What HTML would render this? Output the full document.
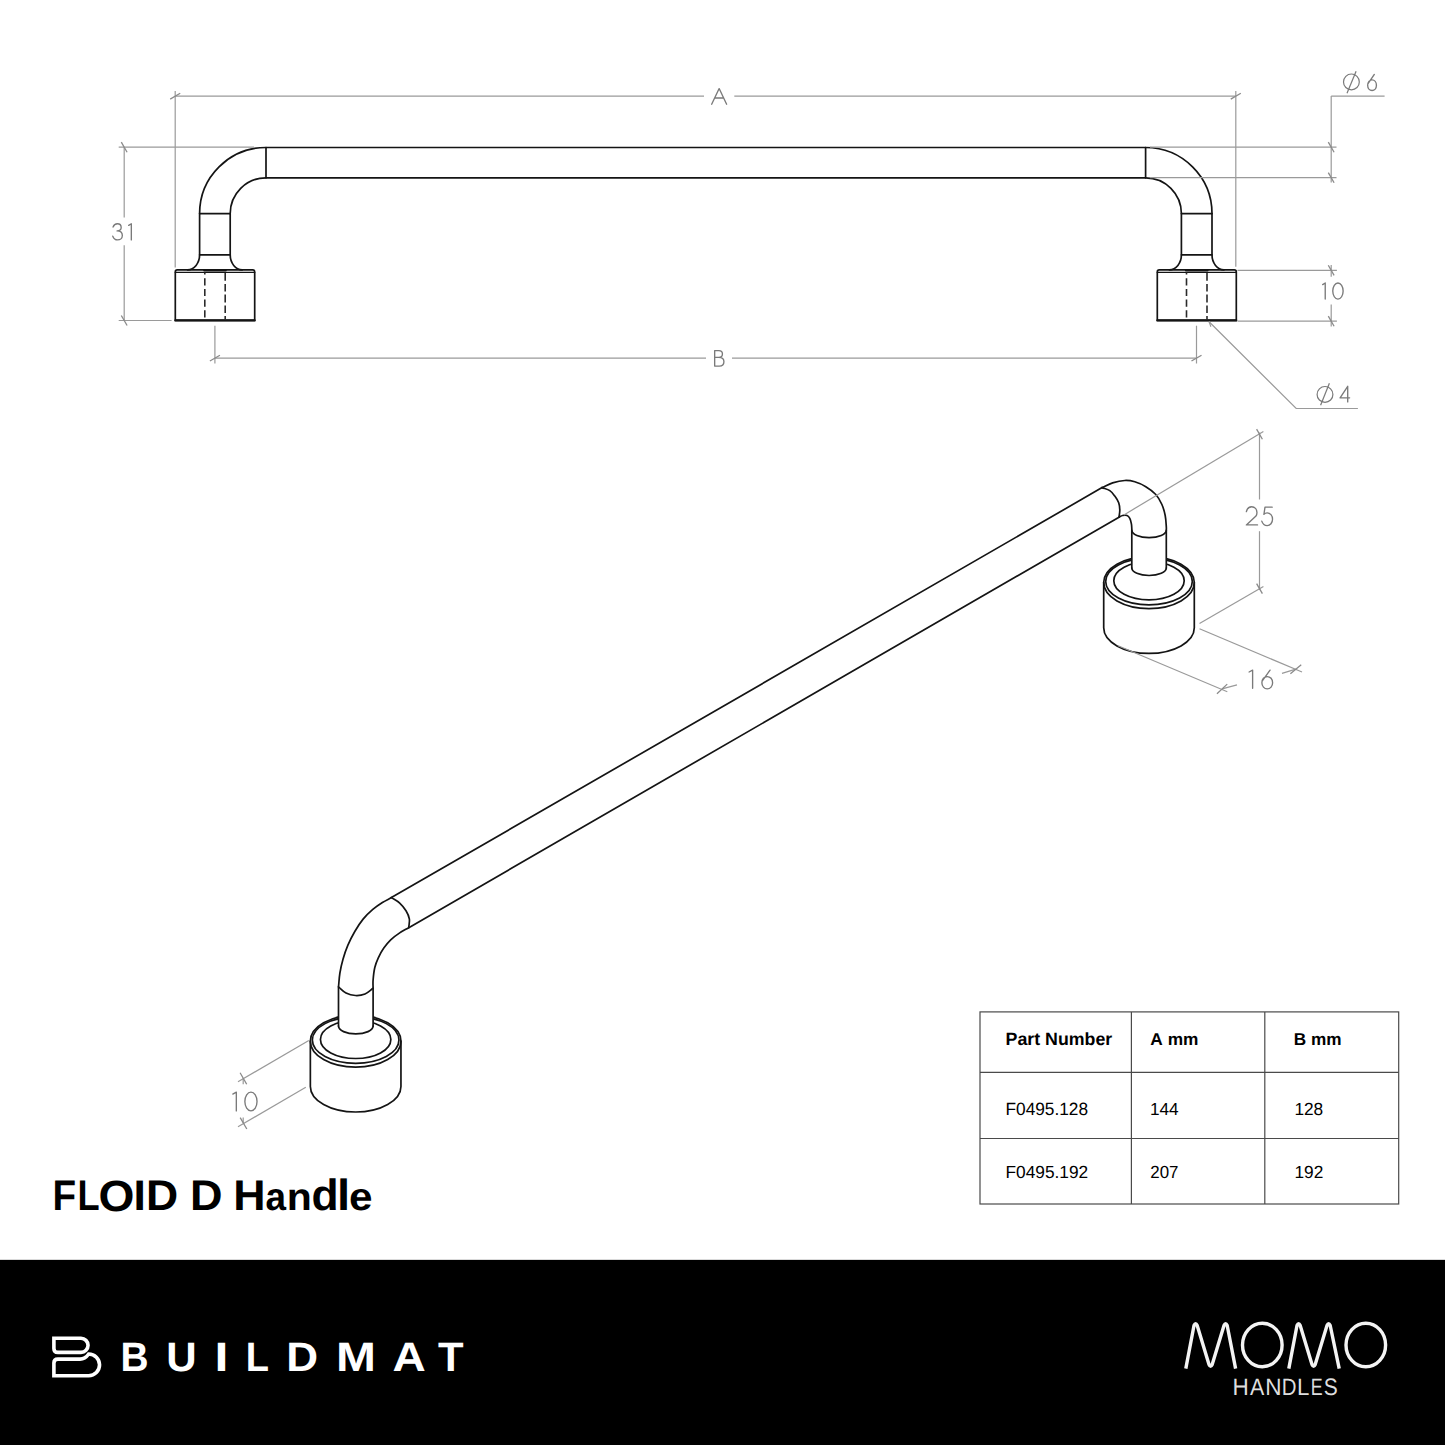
<!DOCTYPE html>
<html><head><meta charset="utf-8"><style>
html,body{margin:0;padding:0;background:#fff;}
body{width:1445px;height:1445px;overflow:hidden;position:relative;font-family:"Liberation Sans",sans-serif;}
svg{position:absolute;left:0;top:0;}
.t{position:absolute;white-space:nowrap;color:#000;}
</style></head><body>
<svg width="1445" height="1445" viewBox="0 0 1445 1445">
<rect x="0" y="0" width="1445" height="1445" fill="#fff"/>
<g stroke-linecap="round" stroke-linejoin="round">
<path d="M266,147.5 L1145.6,147.5 M266,177.8 L1145.6,177.8 M266,147.5 L266,177.8 M1145.6,147.5 L1145.6,177.8" fill="none" stroke="#141414" stroke-width="1.7" />
<path d="M266,147.5 A66.4,66.1 0 0 0 199.6,213.6" fill="none" stroke="#141414" stroke-width="1.7" />
<path d="M266,177.79999999999998 A35.80000000000001,35.80000000000001 0 0 0 230.2,213.6" fill="none" stroke="#141414" stroke-width="1.7" />
<path d="M199.6,213.6 L199.6,254.8 M230.2,213.6 L230.2,254.8 M199.6,213.6 L230.2,213.6 M199.6,254.8 L230.2,254.8" fill="none" stroke="#141414" stroke-width="1.7" />
<path d="M199.6,254.8 A12,15 0 0 1 187.6,269.8" fill="none" stroke="#141414" stroke-width="1.7" />
<path d="M230.2,254.8 A12,15 0 0 0 242.2,269.8" fill="none" stroke="#141414" stroke-width="1.7" />
<path d="M175.3,320.4 L175.3,271.9 Q175.3,269.9 177.3,269.9 L252.7,269.9 Q254.7,269.9 254.7,271.9 L254.7,320.4 Z" fill="none" stroke="#141414" stroke-width="1.7" />
<path d="M175.3,320.4 L254.7,320.4" fill="none" stroke="#141414" stroke-width="2.1" />
<path d="M175.3,272.4 L254.7,272.4" fill="none" stroke="#141414" stroke-width="1.3" />
<path d="M204.3,270.5 L225.7,270.5" fill="none" stroke="#141414" stroke-width="2.2" />
<path d="M204.8,272.5 L204.8,274.6 M204.8,278.3 L204.8,285.6 M204.8,289.1 L204.8,295.9 M204.8,299.5 L204.8,306.7 M204.8,310.3 L204.8,317.5" fill="none" stroke="#2a2a2a" stroke-width="1.6" stroke-linecap="butt"/>
<path d="M225.2,272.9 L225.2,280.8 M225.2,284.1 L225.2,291.6 M225.2,294.5 L225.2,302.6 M225.2,305.5 L225.2,313 M225.2,316.1 L225.2,320" fill="none" stroke="#2a2a2a" stroke-width="1.6" stroke-linecap="butt"/>
<path d="M1145.6,147.5 A66.40000000000009,66.1 0 0 1 1212.0,213.6" fill="none" stroke="#141414" stroke-width="1.7" />
<path d="M1145.6,177.7999999999998 A35.80000000000018,35.80000000000018 0 0 1 1181.4,213.6" fill="none" stroke="#141414" stroke-width="1.7" />
<path d="M1212.0,213.6 L1212.0,254.8 M1181.4,213.6 L1181.4,254.8 M1212.0,213.6 L1181.4,213.6 M1212.0,254.8 L1181.4,254.8" fill="none" stroke="#141414" stroke-width="1.7" />
<path d="M1181.4,254.8 A12,15 0 0 1 1169.4,269.8" fill="none" stroke="#141414" stroke-width="1.7" />
<path d="M1212.0,254.8 A12,15 0 0 0 1224.0,269.8" fill="none" stroke="#141414" stroke-width="1.7" />
<path d="M1157.3,320.4 L1157.3,271.9 Q1157.3,269.9 1159.3,269.9 L1234.3,269.9 Q1236.3,269.9 1236.3,271.9 L1236.3,320.4 Z" fill="none" stroke="#141414" stroke-width="1.7" />
<path d="M1157.3,320.4 L1236.3,320.4" fill="none" stroke="#141414" stroke-width="2.1" />
<path d="M1157.3,272.4 L1236.3,272.4" fill="none" stroke="#141414" stroke-width="1.3" />
<path d="M1186.0,270.5 L1207.5,270.5" fill="none" stroke="#141414" stroke-width="2.2" />
<path d="M1186.5,272.5 L1186.5,274.6 M1186.5,278.3 L1186.5,285.6 M1186.5,289.1 L1186.5,295.9 M1186.5,299.5 L1186.5,306.7 M1186.5,310.3 L1186.5,317.5" fill="none" stroke="#2a2a2a" stroke-width="1.6" stroke-linecap="butt"/>
<path d="M1207.0,272.9 L1207.0,280.8 M1207.0,284.1 L1207.0,291.6 M1207.0,294.5 L1207.0,302.6 M1207.0,305.5 L1207.0,313 M1207.0,316.1 L1207.0,320" fill="none" stroke="#2a2a2a" stroke-width="1.6" stroke-linecap="butt"/>
</g>
<line x1="175.2" y1="96.2" x2="704" y2="96.2" stroke="#9a9a9a" stroke-width="1.2" />
<line x1="734.3" y1="96.2" x2="1235.8" y2="96.2" stroke="#9a9a9a" stroke-width="1.2" />
<line x1="175.2" y1="91" x2="175.2" y2="267.4" stroke="#9a9a9a" stroke-width="1.2" />
<line x1="1235.8" y1="91" x2="1235.8" y2="266.8" stroke="#9a9a9a" stroke-width="1.2" />
<line x1="170.18" y1="99.1" x2="180.22" y2="93.3" stroke="#8a8a8a" stroke-width="1.3" />
<line x1="1230.78" y1="99.1" x2="1240.82" y2="93.3" stroke="#8a8a8a" stroke-width="1.3" />
<path d="M 711.67,104.23 L 719.15,88.58 L 726.62,104.23 M 714.96,97.97 L 723.34,97.97" fill="none" stroke="#7a7a7a" stroke-width="1.35" stroke-linecap="round" stroke-linejoin="round"/>
<line x1="214.9" y1="358.1" x2="706" y2="358.1" stroke="#9a9a9a" stroke-width="1.2" />
<line x1="732" y1="358.1" x2="1196.5" y2="358.1" stroke="#9a9a9a" stroke-width="1.2" />
<line x1="214.9" y1="325.7" x2="214.9" y2="363.5" stroke="#9a9a9a" stroke-width="1.2" />
<line x1="1196.5" y1="325.7" x2="1196.5" y2="363.5" stroke="#9a9a9a" stroke-width="1.2" />
<line x1="209.88" y1="361" x2="219.92" y2="355.2" stroke="#8a8a8a" stroke-width="1.3" />
<line x1="1191.48" y1="361" x2="1201.52" y2="355.2" stroke="#8a8a8a" stroke-width="1.3" />
<path d="M 714.67,366.12 L 714.67,350.57 L 718.84,350.57 C 721.15,350.57 722.44,352.13 722.44,354 C 722.44,356.17 720.96,357.42 718.84,357.42 L 714.67,357.42 M 718.84,357.42 C 722.07,357.42 723.92,359.13 723.92,361.77 C 723.92,364.26 722.07,366.12 719.3,366.12 L 714.67,366.12" fill="none" stroke="#7a7a7a" stroke-width="1.35" stroke-linecap="round" stroke-linejoin="round"/>
<line x1="124.2" y1="147.2" x2="124.2" y2="217.4" stroke="#9a9a9a" stroke-width="1.2" />
<line x1="124.2" y1="245.3" x2="124.2" y2="320.5" stroke="#9a9a9a" stroke-width="1.2" />
<line x1="118.7" y1="147.2" x2="254" y2="147.2" stroke="#9a9a9a" stroke-width="1.2" />
<line x1="118.7" y1="320.5" x2="171.6" y2="320.5" stroke="#9a9a9a" stroke-width="1.2" />
<line x1="121.3" y1="142.18" x2="127.1" y2="152.22" stroke="#8a8a8a" stroke-width="1.3" />
<line x1="121.3" y1="315.48" x2="127.1" y2="325.52" stroke="#8a8a8a" stroke-width="1.3" />
<path d="M 113.06,227 C 113.92,224.74 115.45,223.78 117.36,223.78 C 119.65,223.78 121.18,225.39 121.18,227.49 C 121.18,229.59 119.46,230.88 117.07,230.88 C 120.41,230.88 122.33,232.82 122.33,235.4 C 122.33,237.99 120.22,239.93 117.55,239.93 C 115.45,239.93 113.54,238.31 112.77,236.21" fill="none" stroke="#7a7a7a" stroke-width="1.35" stroke-linecap="round" stroke-linejoin="round"/>
<path d="M 128.68,225.39 L 131.33,223.78 L 131.33,239.93" fill="none" stroke="#7a7a7a" stroke-width="1.35" stroke-linecap="round" stroke-linejoin="round"/>
<line x1="1331.2" y1="96.1" x2="1331.2" y2="182.5" stroke="#9a9a9a" stroke-width="1.2" />
<line x1="1331.2" y1="96.1" x2="1384.6" y2="96.1" stroke="#9a9a9a" stroke-width="1.2" />
<line x1="1150" y1="147.2" x2="1336.5" y2="147.2" stroke="#9a9a9a" stroke-width="1.2" />
<line x1="1150" y1="177.7" x2="1336.5" y2="177.7" stroke="#9a9a9a" stroke-width="1.2" />
<line x1="1328.3" y1="142.18" x2="1334.1" y2="152.22" stroke="#8a8a8a" stroke-width="1.3" />
<line x1="1328.3" y1="172.68" x2="1334.1" y2="182.72" stroke="#8a8a8a" stroke-width="1.3" />
<circle cx="1351.4" cy="81.9" r="7.9" fill="none" stroke="#7a7a7a" stroke-width="1.2"/>
<line x1="1347" y1="93.3" x2="1356.1" y2="71.2" stroke="#7a7a7a" stroke-width="1.2" />
<path d="M 1374.32,74.47 L 1368.2,83.46 M 1367.67,85.23 C 1367.67,82.18 1369.6,79.93 1372.05,79.93 C 1374.5,79.93 1376.42,82.18 1376.42,85.23 C 1376.42,88.28 1374.5,90.53 1372.05,90.53 C 1369.6,90.53 1367.67,88.28 1367.67,85.23" fill="none" stroke="#7a7a7a" stroke-width="1.35" stroke-linecap="round" stroke-linejoin="round"/>
<line x1="1331.2" y1="265" x2="1331.2" y2="276.7" stroke="#9a9a9a" stroke-width="1.2" />
<line x1="1331.2" y1="304.6" x2="1331.2" y2="326.6" stroke="#9a9a9a" stroke-width="1.2" />
<line x1="1237.5" y1="270.3" x2="1336.9" y2="270.3" stroke="#9a9a9a" stroke-width="1.2" />
<line x1="1237.5" y1="321.2" x2="1336.9" y2="321.2" stroke="#9a9a9a" stroke-width="1.2" />
<line x1="1328.3" y1="265.28" x2="1334.1" y2="275.32" stroke="#8a8a8a" stroke-width="1.3" />
<line x1="1328.3" y1="316.18" x2="1334.1" y2="326.22" stroke="#8a8a8a" stroke-width="1.3" />
<path d="M 1322.67,284.59 L 1325.23,282.98 L 1325.23,299.12" fill="none" stroke="#7a7a7a" stroke-width="1.35" stroke-linecap="round" stroke-linejoin="round"/>
<ellipse cx="1337.95" cy="291.05" rx="5.18" ry="8.07" fill="none" stroke="#7a7a7a" stroke-width="1.35"/>
<polyline points="1209.1,321.8 1296.2,408.5 1357.9,408.5" fill="none" stroke="#9a9a9a" stroke-width="1.2"/>
<path d="M1209.1,321.8 L1210.9,326.8" fill="none" stroke="#9a9a9a" stroke-width="1.2"/>
<circle cx="1325" cy="394.4" r="7.9" fill="none" stroke="#7a7a7a" stroke-width="1.2"/>
<line x1="1320.6" y1="405.3" x2="1329.4" y2="383.2" stroke="#7a7a7a" stroke-width="1.2" />
<path d="M 1347.71,401.93 L 1347.71,386.28 L 1340.08,397.86 L 1349.62,397.86" fill="none" stroke="#7a7a7a" stroke-width="1.35" stroke-linecap="round" stroke-linejoin="round"/>
<g stroke-linecap="round" stroke-linejoin="round">
<g transform="translate(0,0)">
<path d="M1103.7,582.6 L1103.7,627.8 A45.3,25.6 0 0 0 1194.3,627.8 L1194.3,582.6" fill="none" stroke="#141414" stroke-width="1.7" />
<ellipse cx="1149.0" cy="582.6" rx="45.3" ry="26.0" fill="none" stroke="#141414" stroke-width="1.7"/>
<ellipse cx="1149.0" cy="581.5" rx="43.3" ry="23.3" fill="none" stroke="#141414" stroke-width="1.7"/>
<ellipse cx="1149.0" cy="580.8" rx="35.2" ry="19.1" fill="none" stroke="#141414" stroke-width="1.7"/>
</g>
<g transform="translate(-793.35,458.6)">
<path d="M1103.7,582.6 L1103.7,627.8 A45.3,25.6 0 0 0 1194.3,627.8 L1194.3,582.6" fill="none" stroke="#141414" stroke-width="1.7" />
<ellipse cx="1149.0" cy="582.6" rx="45.3" ry="26.0" fill="none" stroke="#141414" stroke-width="1.7"/>
<ellipse cx="1149.0" cy="581.5" rx="43.3" ry="23.3" fill="none" stroke="#141414" stroke-width="1.7"/>
<ellipse cx="1149.0" cy="580.8" rx="35.2" ry="19.1" fill="none" stroke="#141414" stroke-width="1.7"/>
</g>
<path d="M1131.8,529.8 L1131.8,568.0 A17.25,7.5 0 0 0 1166.3,568.0 L1166.3,529.8 Z" fill="#fff" stroke="none"/>
<path d="M338.5,986.3 L338.5,1026.1 A17.30000000000001,7.800000000000182 0 0 0 373.1,1026.1 L373.1,986.3 Z" fill="#fff" stroke="none"/>
<path d="M409.2,927.4 L1119,517.2" fill="none" stroke="#141414" stroke-width="1.7" />
<path d="M391.4,897.6 L1102.1,487.6" fill="none" stroke="#141414" stroke-width="1.7" />
<path d="M1102.1,487.6 C1105.6,486.03 1108.82,484.08 1112.6,482.9 C1116.38,481.72 1121.1,480.68 1124.8,480.5 C1128.5,480.32 1131.3,480.77 1134.8,481.8 C1138.3,482.83 1142.3,484.58 1145.8,486.7 C1149.3,488.82 1153.12,491.53 1155.8,494.5 C1158.48,497.47 1160.33,501 1161.9,504.5 C1163.47,508 1164.47,511.82 1165.2,515.5 C1165.93,519.18 1166.12,524.13 1166.3,526.6 C1166.48,529.07 1166.3,529.07 1166.3,530.3 L1166.3,568" fill="none" stroke="#141414" stroke-width="1.7" />
<path d="M1119,517.2 C1120.2,516.63 1121.27,515.78 1122.6,515.5 C1123.93,515.22 1125.8,515.03 1127,515.5 C1128.2,515.97 1129.07,516.92 1129.8,518.3 C1130.53,519.68 1131.07,522.08 1131.4,523.8 C1131.73,525.52 1131.73,527.52 1131.8,528.6 C1131.87,529.68 1131.8,529.73 1131.8,530.3 L1131.8,568" fill="none" stroke="#141414" stroke-width="1.7" />
<path d="M1102.1,487.6 C1104.67,488.6 1107.68,489.18 1109.8,490.6 C1111.92,492.02 1113.32,494.07 1114.8,496.1 C1116.28,498.13 1117.87,500.48 1118.7,502.8 C1119.53,505.12 1119.75,507.6 1119.8,510 C1119.85,512.4 1119.27,514.8 1119,517.2" fill="none" stroke="#141414" stroke-width="1.7" />
<path d="M1131.8,530.3 A17.25,7.4 0 0 0 1166.3,530.3" fill="none" stroke="#141414" stroke-width="1.7" />
<path d="M1131.8,568 A17.25,7.5 0 0 0 1166.3,568" fill="none" stroke="#141414" stroke-width="1.7" />
<path d="M391.4,897.6 C388.4,899.23 385.5,900.53 382.4,902.5 C379.3,904.47 376.02,906.63 372.8,909.4 C369.58,912.17 366.1,915.42 363.1,919.1 C360.1,922.78 357.35,927.12 354.8,931.5 C352.25,935.88 349.77,940.78 347.8,945.4 C345.83,950.02 344.32,954.6 343,959.2 C341.68,963.8 340.65,968.38 339.9,973 C339.15,977.62 338.97,982.27 338.5,986.9 L338.5,1026.1" fill="none" stroke="#141414" stroke-width="1.7" />
<path d="M408.7,927.7 C405.7,929.43 402.7,930.88 399.7,932.9 C396.7,934.92 393.35,937.27 390.7,939.8 C388.05,942.33 385.87,945.1 383.8,948.1 C381.73,951.1 379.8,954.57 378.3,957.8 C376.8,961.03 375.67,963.8 374.8,967.5 C373.93,971.2 373.38,976.53 373.1,980 C372.82,983.47 373.1,985.53 373.1,988.3 L373.1,1026.1" fill="none" stroke="#141414" stroke-width="1.7" />
<path d="M391.4,897.6 C394.17,899.43 397.27,900.9 399.7,903.1 C402.13,905.3 404.38,908.13 406,910.8 C407.62,913.47 408.95,916.28 409.4,919.1 C409.85,921.92 408.93,924.83 408.7,927.7" fill="none" stroke="#141414" stroke-width="1.7" />
<path d="M338.5,986.9 C341,988.93 343.17,991.57 346,993 C348.83,994.43 352.33,995.33 355.5,995.5 C358.67,995.67 362.07,995.2 365,994 C367.93,992.8 370.4,990.2 373.1,988.3" fill="none" stroke="#141414" stroke-width="1.7" />
<path d="M338.5,1026.1 A17.3,7.8 0 0 0 373.1,1026.1" fill="none" stroke="#141414" stroke-width="1.7" />
</g>
<line x1="1123.9" y1="514.9" x2="1263.4" y2="431.6" stroke="#9a9a9a" stroke-width="1.2" />
<line x1="1199.5" y1="623.4" x2="1263.4" y2="586.6" stroke="#9a9a9a" stroke-width="1.2" />
<line x1="1259.5" y1="432.6" x2="1259.5" y2="499.5" stroke="#9a9a9a" stroke-width="1.2" />
<line x1="1259.5" y1="531.2" x2="1259.5" y2="590" stroke="#9a9a9a" stroke-width="1.2" />
<line x1="1256.6" y1="429.18" x2="1262.4" y2="439.22" stroke="#8a8a8a" stroke-width="1.3" />
<line x1="1256.6" y1="583.58" x2="1262.4" y2="593.62" stroke="#8a8a8a" stroke-width="1.3" />
<path d="M 1246.38,511.68 C 1247.16,508.23 1249.39,506.78 1251.73,506.78 C 1254.74,506.78 1256.97,509.32 1256.97,512.58 C 1256.97,514.22 1256.63,515.12 1255.96,516.03 L 1246.38,524.93 L 1257.53,524.93" fill="none" stroke="#7a7a7a" stroke-width="1.35" stroke-linecap="round" stroke-linejoin="round"/>
<path d="M 1272.2,507.15 L 1265,507.15 L 1263.92,514.32 C 1265,513.18 1266.07,512.81 1267.15,512.81 C 1270.16,512.81 1272.53,515.63 1272.53,519.22 C 1272.53,522.8 1270.16,525.62 1267.15,525.62 C 1264.68,525.62 1262.63,523.74 1261.77,521.1" fill="none" stroke="#7a7a7a" stroke-width="1.35" stroke-linecap="round" stroke-linejoin="round"/>
<line x1="1199.5" y1="628.8" x2="1302" y2="672" stroke="#9a9a9a" stroke-width="1.2" />
<line x1="1118.1" y1="645.7" x2="1227.3" y2="691.7" stroke="#9a9a9a" stroke-width="1.2" />
<line x1="1222.1" y1="688.9" x2="1237" y2="684.8" stroke="#9a9a9a" stroke-width="1.2" />
<line x1="1282" y1="673.3" x2="1295.8" y2="669.2" stroke="#9a9a9a" stroke-width="1.2" />
<line x1="1216.97" y1="693.67" x2="1227.23" y2="684.13" stroke="#8a8a8a" stroke-width="1.3" />
<line x1="1290.39" y1="673.64" x2="1301.21" y2="664.76" stroke="#8a8a8a" stroke-width="1.3" />
<path d="M 1249.08,671.98 L 1252.62,670.17 L 1252.62,688.22" fill="none" stroke="#7a7a7a" stroke-width="1.35" stroke-linecap="round" stroke-linejoin="round"/>
<path d="M 1270.04,670.17 L 1262.52,680.67 M 1261.88,682.74 C 1261.88,679.17 1264.24,676.55 1267.25,676.55 C 1270.26,676.55 1272.62,679.17 1272.62,682.74 C 1272.62,686.3 1270.26,688.92 1267.25,688.92 C 1264.24,688.92 1261.88,686.3 1261.88,682.74" fill="none" stroke="#7a7a7a" stroke-width="1.35" stroke-linecap="round" stroke-linejoin="round"/>
<line x1="308.8" y1="1040.5" x2="238" y2="1081.8" stroke="#9a9a9a" stroke-width="1.2" />
<line x1="305.8" y1="1087.3" x2="238" y2="1126.8" stroke="#9a9a9a" stroke-width="1.2" />
<line x1="243.2" y1="1078.3" x2="243.2" y2="1084.2" stroke="#9a9a9a" stroke-width="1.2" />
<line x1="243.2" y1="1117.4" x2="243.2" y2="1123" stroke="#9a9a9a" stroke-width="1.2" />
<line x1="240.1" y1="1072.78" x2="246.7" y2="1084.22" stroke="#8a8a8a" stroke-width="1.3" />
<line x1="240.2" y1="1117.58" x2="246.8" y2="1129.02" stroke="#8a8a8a" stroke-width="1.3" />
<path d="M 232.78,1094.05 L 236.33,1092.17 L 236.33,1110.92" fill="none" stroke="#7a7a7a" stroke-width="1.35" stroke-linecap="round" stroke-linejoin="round"/>
<ellipse cx="250.95" cy="1101.55" rx="6.08" ry="9.37" fill="none" stroke="#7a7a7a" stroke-width="1.35"/>
<!-- table -->
<g fill="none" stroke="#4a4a4a" stroke-width="1.2">
<rect x="980" y="1011.9" width="418.7" height="192.1"/>
<line x1="1131.4" y1="1011.9" x2="1131.4" y2="1204"/>
<line x1="1264.8" y1="1011.9" x2="1264.8" y2="1204"/>
<line x1="980" y1="1072.4" x2="1398.7" y2="1072.4"/>
<line x1="980" y1="1138.5" x2="1398.7" y2="1138.5"/>
</g>
<g style="font-family:'Liberation Sans';font-kerning:none" text-rendering="geometricPrecision">
<text transform="matrix(0.17789,0,0,0.17733,1005.51,1045.20)" font-size="100" font-weight="bold" fill="#000" >Part Number</text>
<text transform="matrix(0.17314,0,0,0.17151,1150.37,1045.10)" font-size="100" font-weight="bold" fill="#000" >A mm</text>
<text transform="matrix(0.17174,0,0,0.17151,1293.85,1045.10)" font-size="100" font-weight="bold" fill="#000" >B mm</text>
<text transform="matrix(0.17267,0,0,0.17733,1005.48,1115.20)" font-size="100" font-weight="normal" fill="#000" >F0495.128</text>
<text transform="matrix(0.17147,0,0,0.17588,1149.99,1115.20)" font-size="100" font-weight="normal" fill="#000" >144</text>
<text transform="matrix(0.17239,0,0,0.17588,1294.39,1115.20)" font-size="100" font-weight="normal" fill="#000" >128</text>
<text transform="matrix(0.17293,0,0,0.17588,1005.48,1177.50)" font-size="100" font-weight="normal" fill="#000" >F0495.192</text>
<text transform="matrix(0.16902,0,0,0.17588,1150.25,1177.50)" font-size="100" font-weight="normal" fill="#000" >207</text>
<text transform="matrix(0.17315,0,0,0.17588,1294.38,1177.50)" font-size="100" font-weight="normal" fill="#000" >192</text>
<text transform="matrix(0.38634,0,0,0.42733,52.42,1210.10)" font-size="100" font-weight="bold" fill="#000" >F</text>
<text transform="matrix(0.36244,0,0,0.42733,77.48,1210.10)" font-size="100" font-weight="bold" fill="#000" >L</text>
<text transform="matrix(0.46199,0,0,0.43785,98.51,1210.57)" font-size="100" font-weight="bold" fill="#000" >O</text>
<text transform="matrix(0.44431,0,0,0.42733,133.43,1210.10)" font-size="100" font-weight="bold" fill="#000" >I</text>
<text transform="matrix(0.44515,0,0,0.42733,145.92,1210.10)" font-size="100" font-weight="bold" fill="#000" >D</text>
<text transform="matrix(0.45004,0,0,0.43024,189.89,1210.10)" font-size="100" font-weight="bold" fill="#000" >D</text>
<text transform="matrix(0.44736,0,0,0.43024,233.31,1210.10)" font-size="100" font-weight="bold" fill="#000" >H</text>
<text transform="matrix(0.36947,0,0,0.39062,265.42,1210.22)" font-size="100" font-weight="bold" fill="#000" >a</text>
<text transform="matrix(0.41001,0,0,0.38435,286.80,1210.10)" font-size="100" font-weight="bold" fill="#000" >n</text>
<text transform="matrix(0.44453,0,0,0.43711,311.38,1210.17)" font-size="100" font-weight="bold" fill="#000" >d</text>
<text transform="matrix(0.47374,0,0,0.43610,336.89,1210.10)" font-size="100" font-weight="bold" fill="#000" >l</text>
<text transform="matrix(0.42244,0,0,0.39062,349.05,1210.22)" font-size="100" font-weight="bold" fill="#000" >e</text>
</g>
<!-- footer -->
<rect x="0" y="1259.85" width="1445" height="185.15" fill="#000"/>
<path d="M81,1338.3 L53.9,1338.3 L53.9,1348.4 Q53.9,1352.4 57.9,1352.4 L81,1352.4 A7,7 0 0 0 81,1338.3 Z" fill="none" stroke="#fff" stroke-width="3.6"/>
<path d="M53.9,1375.7 L53.9,1363.1 Q53.9,1359.1 57.9,1359.1 L80,1359.1 Q85,1359.1 88.7,1354 A10.85,10.85 0 0 1 88.7,1375.7 Z" fill="none" stroke="#fff" stroke-width="3.6"/>
<g style="font-family:'Liberation Sans';font-kerning:none" text-rendering="geometricPrecision">
<text transform="matrix(0.38861,0,0,0.40989,120.50,1371.00)" font-size="100" font-weight="bold" fill="#fff" >B</text>
<text transform="matrix(0.42091,0,0,0.41132,166.37,1371.10)" font-size="100" font-weight="bold" fill="#fff" >U</text>
<text transform="matrix(0.49985,0,0,0.40989,214.46,1371.00)" font-size="100" font-weight="bold" fill="#fff" >I</text>
<text transform="matrix(0.37998,0,0,0.40989,245.76,1371.00)" font-size="100" font-weight="bold" fill="#fff" >L</text>
<text transform="matrix(0.44025,0,0,0.40989,286.25,1371.00)" font-size="100" font-weight="bold" fill="#fff" >D</text>
<text transform="matrix(0.47911,0,0,0.40989,336.00,1371.00)" font-size="100" font-weight="bold" fill="#fff" >M</text>
<text transform="matrix(0.46058,0,0,0.40989,392.55,1371.00)" font-size="100" font-weight="bold" fill="#fff" >A</text>
<text transform="matrix(0.41775,0,0,0.40989,437.93,1371.00)" font-size="100" font-weight="bold" fill="#fff" >T</text>
</g>
<g fill="none" stroke="#f4f4f4" stroke-width="3.4" stroke-linejoin="round" stroke-linecap="butt">
<path d="M1185.8,1368.6 L1194,1325.5 Q1195.6,1321.8 1197.2,1325.5 L1209,1364.5 Q1210.6,1368 1212.2,1364.5 L1224,1325.5 Q1225.6,1321.8 1227.2,1325.5 L1235.6,1368.6"/>
<ellipse cx="1262.3" cy="1345" rx="19.8" ry="21.8"/>
<path d="M1288.8,1368.6 L1297,1325.5 Q1298.6,1321.8 1300.2,1325.5 L1312,1364.5 Q1313.6,1368 1315.2,1364.5 L1327,1325.5 Q1328.6,1321.8 1330.2,1325.5 L1339.2,1368.6"/>
<ellipse cx="1365.8" cy="1345" rx="19.8" ry="21.8"/>
</g>
<g style="font-family:'Liberation Sans';font-kerning:none" text-rendering="geometricPrecision">
<text transform="matrix(0.22557,0,0,0.23692,1232.55,1394.60)" font-size="100" font-weight="normal" fill="#dedede" >H</text>
<text transform="matrix(0.21415,0,0,0.23692,1250.06,1394.60)" font-size="100" font-weight="normal" fill="#dedede" >A</text>
<text transform="matrix(0.22557,0,0,0.23692,1265.15,1394.60)" font-size="100" font-weight="normal" fill="#dedede" >N</text>
<text transform="matrix(0.20429,0,0,0.23692,1281.82,1394.60)" font-size="100" font-weight="normal" fill="#dedede" >D</text>
<text transform="matrix(0.22226,0,0,0.23692,1297.08,1394.60)" font-size="100" font-weight="normal" fill="#dedede" >L</text>
<text transform="matrix(0.17897,0,0,0.23692,1310.73,1394.60)" font-size="100" font-weight="normal" fill="#dedede" >E</text>
<text transform="matrix(0.21018,0,0,0.23870,1323.65,1394.67)" font-size="100" font-weight="normal" fill="#dedede" >S</text>
</g>
</svg>
</body></html>
